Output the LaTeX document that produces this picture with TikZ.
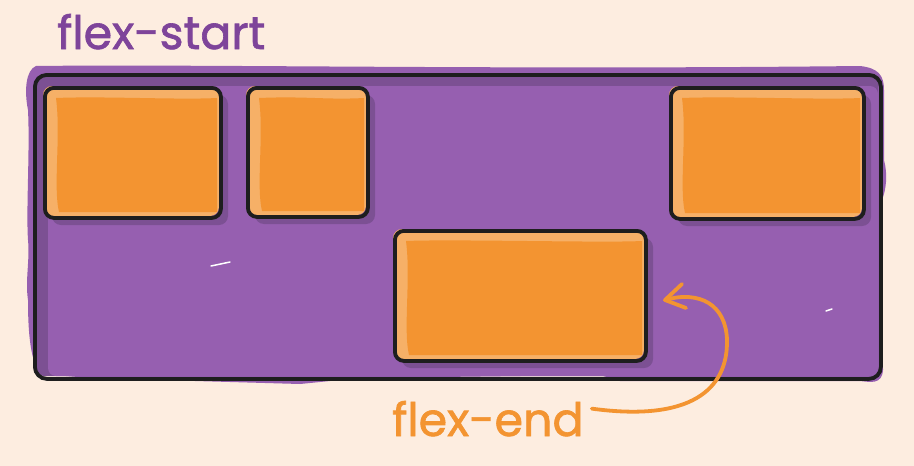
\documentclass[tikz,border=0pt]{standalone}
\usepackage{fontspec}
\setmainfont{Poppins}
\newfontfamily\labelfont{Poppins}[FakeBold=1.4]
\definecolor{bg}{HTML}{FDEDE0}
\definecolor{purp}{HTML}{965FB0}
\definecolor{dpurp}{HTML}{7C5093}
\definecolor{tpurp}{HTML}{7E449A}
\definecolor{org}{HTML}{F39431}
\definecolor{lorg}{HTML}{F6B067}
\definecolor{ink}{HTML}{1E1E1E}
\tikzset{
  ink line/.style={draw=ink, line width=3.8pt, rounded corners=9pt},
  shadowbox/.style={fill=dpurp, rounded corners=9pt},
  label text/.style={font=\labelfont\fontsize{46}{50}\selectfont, inner sep=0pt, anchor=base west},
}
\newcommand{\orangebox}[5]{%
  % #1 name, #2 x1, #3 y1, #4 x2, #5 y2
  \fill[shadowbox] (#2+9,#3+9) rectangle (#4+9,#5+9);
  \fill[lorg, rounded corners=9pt] (#2,#3) rectangle (#4,#5);
  \fill[org] (#2+13,#3+12) .. controls (#2+60,#3+10) and (#4-40,#3+14) .. (#4-2,#3+12)
     -- (#4-2,#5-4) -- (#2+16,#5-4) .. controls (#2+10,#5-30) and (#2+18,#3+50) .. cycle;
  \node[ink line, minimum width=#4-#2, minimum height=#5-#3, anchor=north west] (#1) at (#2,#3) {};
}
\begin{document}
\begin{tikzpicture}[x=1pt,y=-1pt]
\fill[bg] (0,0) rectangle (914,466);
\useasboundingbox (0,0) rectangle (914,466);
% purple blob
\fill[purp] (36,66) .. controls (200,64) and (500,70) .. (860,66)
  .. controls (878,68) and (884,75) .. (884,90)
  -- (884,160) .. controls (888,175) and (886,190) .. (882,200)
  -- (883,370) .. controls (882,385) and (870,382) .. (860,381)
  -- (620,381) -- (600,375) -- (360,378) -- (300,384) -- (90,378) -- (42,374)
  .. controls (30,365) and (28,330) .. (28,300)
  .. controls (25,280) and (30,260) .. (28,240)
  .. controls (26,210) and (30,150) .. (28,110)
  .. controls (24,90) and (26,70) .. cycle;
% inner dark band
\fill[dpurp, rounded corners=10pt] (34,74) rectangle (878,376);
\fill[purp, rounded corners=8pt] (48,86) rectangle (878,376);
\fill[dpurp] (34,330) rectangle (48,372);
% container
\node[ink line, rounded corners=12pt, minimum width=846, minimum height=304, anchor=north west] (box) at (33,73) {};
% boxes
\orangebox{a}{43}{86}{219}{216}
\orangebox{b}{246}{86}{366}{215}
\orangebox{c}{669}{86}{862}{217}
\orangebox{d}{393}{229}{644}{359}
% white scratches
\draw[white, line width=1.5pt, line cap=round] (211,266) -- (230,262);
\draw[white, line width=1.5pt, line cap=round] (826,311) -- (832,309);
% labels
\node[label text, text=tpurp] (start) at (57,49) {flex-start};
\node[label text, text=org] (end) at (392,436) {flex-end};
% arrow
\coordinate (tip) at (665,300);
\draw[org, line width=3.8pt, line cap=round, line join=round]
  (end.east) ++(8,-10) .. controls (690,422) and (728,390) .. (727,340)
  .. controls (726,305) and (700,290) .. (tip);
\draw[org, line width=3.8pt, line cap=round, line join=round]
  (682,284) -- (tip) -- (686,308);
\end{tikzpicture}
\end{document}
